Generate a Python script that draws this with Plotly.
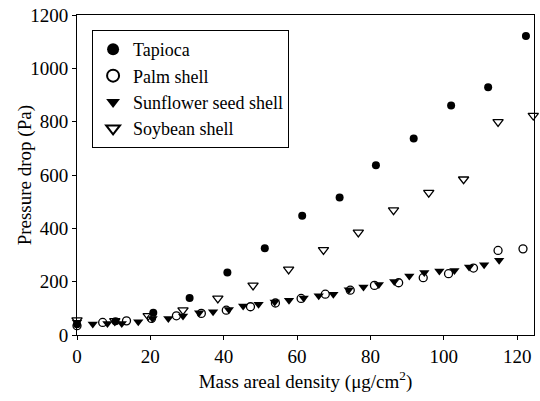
import plotly.graph_objects as go

# Data
tapioca_x = [0, 10.5, 20.8, 30.7, 41.0, 51.2, 61.4, 71.6, 81.5, 91.8, 102.0, 112.1, 122.4]
tapioca_y = [40, 52, 83, 139, 234, 325, 447, 516, 637, 737, 861, 929, 1121]

palm_x = [0, 7.0, 13.5, 20.3, 27.1, 33.9, 40.7, 47.3, 54.1, 61.1, 67.7, 74.5, 81.1, 87.7, 94.4, 101.3, 108.1, 114.8, 121.6]
palm_y = [35, 47, 53, 62, 72, 81, 93, 106, 120, 137, 153, 168, 186, 196, 215, 230, 251, 317, 323]

sun_x = [0, 4.3, 8.3, 12.2, 16.7, 20.6, 24.9, 28.9, 33.3, 37.1, 41.4, 45.3, 49.5, 53.9, 57.8,
         61.8, 65.9, 69.9, 74.1, 78.1, 82.3, 86.5, 90.6, 94.7, 98.8, 102.9, 106.9, 111.0, 115.1]
sun_y = [48, 41, 43, 43, 50, 62, 62, 71, 83, 87, 96, 109, 115, 124, 130,
         139, 147, 153, 170, 180, 189, 201, 221, 234, 240, 242, 255, 263, 280]

soy_x = [0, 10.3, 19.4, 28.9, 38.4, 48.0, 57.7, 67.2, 76.7, 86.3, 95.9, 105.4, 114.8, 124.4]
soy_y = [56, 53, 72, 93, 137, 186, 246, 319, 385, 468, 534, 584, 799, 823]

x_ticks = [0, 20, 40, 60, 80, 100, 120]
y_ticks = [0, 200, 400, 600, 800, 1000, 1200]

FONT = "Liberation Serif, 'Times New Roman', Times, serif"
fig = go.Figure()
fig.add_trace(go.Scatter(x=tapioca_x, y=tapioca_y, mode="markers", name="Tapioca", cliponaxis=False,
                         marker=dict(symbol="circle", size=8, color="black")))
fig.add_trace(go.Scatter(x=palm_x, y=palm_y, mode="markers", name="Palm shell", cliponaxis=False,
                         marker=dict(symbol="circle-open", size=8, color="black", line=dict(width=1.3))))
fig.add_trace(go.Scatter(x=sun_x, y=sun_y, mode="markers", name="Sunflower seed shell", cliponaxis=False,
                         marker=dict(symbol="triangle-down", size=9, color="black")))
fig.add_trace(go.Scatter(x=soy_x, y=soy_y, mode="markers", name="Soybean shell", cliponaxis=False,
                         marker=dict(symbol="triangle-down-open", size=9, color="black", line=dict(width=1.3))))

fig.update_layout(
    width=540, height=401,
    margin=dict(l=77, r=5, t=13, b=66),
    paper_bgcolor="white", plot_bgcolor="white",
    font=dict(family=FONT, size=18, color="black"),
    legend=dict(x=0.033, y=0.953, xanchor="left", yanchor="top",
                bgcolor="white", bordercolor="black", borderwidth=1,
                font=dict(family=FONT, size=18, color="black"),
                itemsizing="constant", tracegroupgap=0),
    xaxis=dict(range=[0, 124.6], tickvals=x_ticks,
               showgrid=False, zeroline=False, showline=True, linecolor="black", linewidth=1,
               mirror=True, ticks="outside", ticklen=4, tickcolor="black",
               tickfont=dict(family=FONT, size=19),
               title=dict(text="Mass areal density (μg/cm<sup>2</sup>)", standoff=8,
                          font=dict(family=FONT, size=19))),
    yaxis=dict(range=[0, 1200], tickvals=y_ticks,
               showgrid=False, zeroline=False, showline=True, linecolor="black", linewidth=1,
               mirror=True, ticks="outside", ticklen=4, tickcolor="black",
               tickfont=dict(family=FONT, size=19)),
    annotations=[dict(text="Pressure drop (Pa)", textangle=-90, xref="paper", yref="paper",
                      x=-0.113, y=0.5, xanchor="center", yanchor="middle", showarrow=False,
                      font=dict(family=FONT, size=19, color="black"))],
)

fig.write_html("out.html")
